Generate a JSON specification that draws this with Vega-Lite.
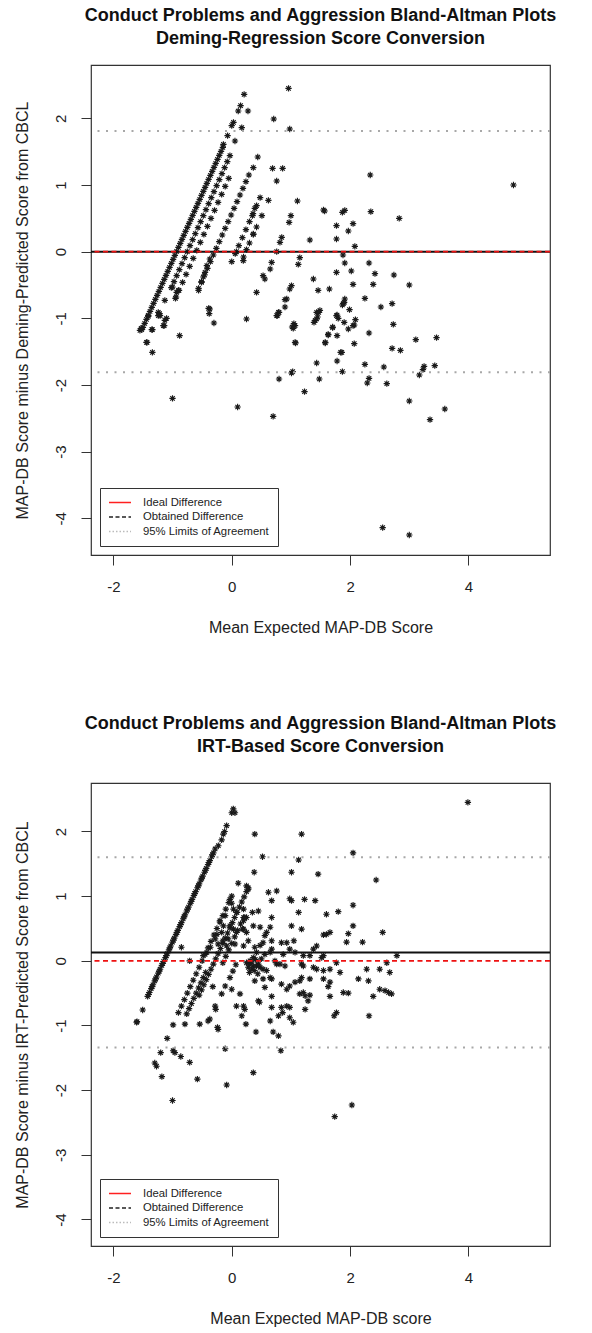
{
  "$schema": "https://vega.github.io/schema/vega-lite/v6.json",
  "background": "white",
  "padding": {"left": 13, "top": 6, "right": 10, "bottom": 5},
  "config": {
    "font": "Liberation Sans",
    "view": {"stroke": "#333", "strokeWidth": 1.2},
    "axis": {"grid": false, "domain": false, "ticks": true, "tickSize": 10, "tickColor": "#333", "tickWidth": 1, "labelFont": "Liberation Sans", "labelFontSize": 15, "labelColor": "#222", "titleFont": "Liberation Sans", "titleFontSize": 16, "titleFontWeight": "normal", "titleColor": "#222", "labelOverlap": false, "labelFlush": false, "labelExpr": "'' + datum.value"},
    "axisX": {"labelPadding": 14.5, "titlePadding": 25},
    "axisY": {"labelAngle": -90, "labelAlign": "center", "labelBaseline": "bottom", "labelPadding": 12.5, "titlePadding": 23},
    "title": {"font": "Liberation Sans", "fontSize": 18, "fontWeight": "bold", "color": "#111", "anchor": "middle", "frame": "group", "lineHeight": 23}
  },
  "datasets": {
    "p1": [
      {"x":-1.50,"y":-1.135},{"x":-1.47,"y":-1.075},{"x":-1.44,"y":-1.015},{"x":-1.41,"y":-0.955},{"x":-1.38,"y":-0.895},{"x":-1.35,"y":-0.835},{"x":-1.32,"y":-0.775},{"x":-1.29,"y":-0.715},{"x":-1.26,"y":-0.655},{"x":-1.23,"y":-0.595},{"x":-1.20,"y":-0.535},{"x":-1.17,"y":-0.475},{"x":-1.14,"y":-0.415},{"x":-1.11,"y":-0.355},{"x":-1.08,"y":-0.295},{"x":-1.05,"y":-0.235},{"x":-1.02,"y":-0.175},{"x":-0.99,"y":-0.115},{"x":-0.96,"y":-0.055},{"x":-0.93,"y":0.005},{"x":-0.90,"y":0.065},{"x":-0.87,"y":0.125},{"x":-0.84,"y":0.185},{"x":-0.81,"y":0.245},{"x":-0.78,"y":0.305},{"x":-0.75,"y":0.365},{"x":-0.72,"y":0.425},{"x":-0.69,"y":0.485},{"x":-0.66,"y":0.545},{"x":-0.63,"y":0.605},{"x":-0.60,"y":0.665},{"x":-0.57,"y":0.725},{"x":-0.54,"y":0.785},{"x":-0.51,"y":0.845},{"x":-0.48,"y":0.905},{"x":-0.45,"y":0.965},{"x":-0.42,"y":1.025},{"x":-0.39,"y":1.085},{"x":-0.36,"y":1.145},{"x":-0.33,"y":1.205},{"x":-0.30,"y":1.265},{"x":-0.27,"y":1.325},{"x":-0.24,"y":1.385},{"x":-0.21,"y":1.445},{"x":-0.18,"y":1.505},{"x":-0.15,"y":1.565},
      {"x":-0.14,"y":1.61},{"x":-0.07,"y":1.74},{"x":0.0,"y":1.89},{"x":0.03,"y":1.94},{"x":0.11,"y":2.11},{"x":0.15,"y":2.19},{"x":0.21,"y":2.36},{"x":-1.55,"y":-1.18},{"x":-1.52,"y":-1.17},{"x":-1.53,"y":-1.15},
      {"x":-1.02,"y":-0.54},{"x":-0.975,"y":-0.45},{"x":-0.93,"y":-0.36},{"x":-0.885,"y":-0.27},{"x":-0.84,"y":-0.18},{"x":-0.795,"y":-0.09},{"x":-0.75,"y":0.0},{"x":-0.705,"y":0.09},{"x":-0.66,"y":0.18},{"x":-0.615,"y":0.27},{"x":-0.57,"y":0.36},{"x":-0.525,"y":0.45},{"x":-0.48,"y":0.54},{"x":-0.435,"y":0.63},{"x":-0.39,"y":0.72},{"x":-0.345,"y":0.81},{"x":-0.30,"y":0.90},{"x":-0.255,"y":0.99},{"x":-0.21,"y":1.08},{"x":-0.165,"y":1.17},{"x":-0.12,"y":1.26},{"x":-0.075,"y":1.35},{"x":-0.03,"y":1.44},
      {"x":0.055,"y":1.66},{"x":0.17,"y":1.86},{"x":0.275,"y":2.11},{"x":-1.24,"y":-0.91},{"x":-1.13,"y":-0.73},{"x":-1.35,"y":-1.17},{"x":-1.43,"y":-1.36},{"x":-1.21,"y":-0.96},
      {"x":-0.95,"y":-0.70},{"x":-0.89,"y":-0.58},{"x":-0.83,"y":-0.46},{"x":-0.77,"y":-0.34},{"x":-0.71,"y":-0.22},{"x":-0.65,"y":-0.10},{"x":-0.59,"y":0.02},{"x":-0.53,"y":0.14},{"x":-0.47,"y":0.26},{"x":-0.41,"y":0.38},{"x":-0.35,"y":0.50},{"x":-0.29,"y":0.62},{"x":-0.23,"y":0.74},{"x":-0.17,"y":0.86},{"x":-0.11,"y":0.98},{"x":-0.05,"y":1.10},
      {"x":-1.13,"y":-1.03},{"x":-1.155,"y":-1.11},{"x":-1.34,"y":-1.51},{"x":-1.10,"y":-1.00},
      {"x":-0.56,"y":-0.55},{"x":-0.51,"y":-0.45},{"x":-0.46,"y":-0.35},{"x":-0.41,"y":-0.25},{"x":-0.36,"y":-0.15},{"x":-0.31,"y":-0.05},{"x":-0.26,"y":0.05},{"x":-0.21,"y":0.15},{"x":-0.16,"y":0.25},{"x":-0.11,"y":0.35},{"x":-0.06,"y":0.45},{"x":-0.01,"y":0.55},{"x":0.04,"y":0.65},{"x":0.09,"y":0.75},{"x":0.14,"y":0.85},{"x":0.19,"y":0.95},{"x":0.24,"y":1.05},{"x":0.29,"y":1.15},
      {"x":0.365,"y":1.26},{"x":0.44,"y":1.42},{"x":0.71,"y":1.99},{"x":0.96,"y":2.45},{"x":-0.88,"y":-1.26},
      {"x":0.0,"y":-0.15},{"x":0.06,"y":-0.03},{"x":0.12,"y":0.09},{"x":0.18,"y":0.21},{"x":0.24,"y":0.33},{"x":0.30,"y":0.45},{"x":0.36,"y":0.57},{"x":0.42,"y":0.69},{"x":0.48,"y":0.81},
      {"x":0.69,"y":1.25},{"x":0.98,"y":1.84},{"x":-0.37,"y":-0.86},{"x":-0.38,"y":-0.93},{"x":-1.0,"y":-2.2},{"x":0.08,"y":0.0},{"x":-0.39,"y":-0.85},
      {"x":0.20,"y":-0.08},{"x":0.25,"y":0.03},{"x":0.30,"y":0.13},{"x":0.365,"y":0.26},{"x":0.42,"y":0.37},{"x":0.51,"y":0.54},{"x":0.62,"y":0.77},{"x":0.76,"y":1.06},{"x":0.86,"y":1.25},{"x":-0.30,"y":-1.07},
      {"x":0.25,"y":-1.01},{"x":0.42,"y":-0.61},{"x":0.53,"y":-0.36},{"x":0.56,"y":-0.41},{"x":0.65,"y":-0.26},{"x":0.675,"y":-0.16},{"x":0.76,"y":0.0},{"x":0.815,"y":0.14},{"x":0.845,"y":0.215},{"x":0.97,"y":0.44},{"x":1.0,"y":0.54},{"x":1.11,"y":0.76},
      {"x":0.76,"y":-0.96},{"x":0.79,"y":-0.91},{"x":0.90,"y":-0.83},{"x":0.93,"y":-0.71},{"x":0.98,"y":-0.56},{"x":1.01,"y":-0.51},{"x":1.125,"y":-0.19},{"x":1.15,"y":-0.09},{"x":1.32,"y":0.175},{"x":1.55,"y":0.625},
      {"x":1.07,"y":-1.11},{"x":1.04,"y":-1.15},{"x":1.07,"y":-1.36},{"x":1.38,"y":-0.41},{"x":1.46,"y":-0.58},{"x":1.65,"y":-0.56},{"x":1.77,"y":-0.31},{"x":1.87,"y":0.59},{"x":1.77,"y":0.39},{"x":1.91,"y":-0.71},{"x":1.885,"y":-0.78},{"x":1.435,"y":-0.91},{"x":1.41,"y":-1.03},{"x":1.49,"y":-0.88},{"x":1.58,"y":-1.36},{"x":1.63,"y":-1.25},{"x":1.705,"y":-1.13},{"x":1.77,"y":-0.96},{"x":1.80,"y":-1.0},{"x":1.86,"y":-1.51},{"x":1.97,"y":-1.16},
      {"x":-1.0,"y":-0.53},{"x":-0.94,"y":-0.68},{"x":-0.93,"y":-0.61},{"x":-0.90,"y":-0.58},{"x":-0.56,"y":-0.58},{"x":-0.51,"y":-0.46},{"x":-0.48,"y":-0.38},{"x":-0.45,"y":-0.31},{"x":-0.42,"y":-0.21},{"x":-0.37,"y":-0.11},{"x":0.39,"y":0.65},{"x":0.35,"y":0.54},{"x":0.365,"y":0.265},{"x":0.196,"y":-0.134},
      {"x":-1.41,"y":-0.97},{"x":-1.22,"y":-0.93},{"x":-1.24,"y":-0.96},{"x":-1.14,"y":-1.11},{"x":-1.34,"y":-1.17},{"x":-1.44,"y":-1.36},
      {"x":0.80,"y":-0.91},{"x":0.77,"y":-0.96},{"x":0.90,"y":-0.72},{"x":1.05,"y":-1.08},{"x":1.02,"y":-1.13},{"x":1.08,"y":-1.37},{"x":0.80,"y":-1.91},{"x":1.03,"y":-1.80},{"x":1.01,"y":-1.82},{"x":1.23,"y":-2.10},{"x":0.10,"y":-2.33},{"x":0.70,"y":-2.47},{"x":1.47,"y":-0.91},{"x":1.45,"y":-0.98},{"x":1.39,"y":-1.06},{"x":1.435,"y":-1.01},{"x":1.58,"y":-1.37},{"x":1.63,"y":-1.24},{"x":1.705,"y":-1.14},{"x":1.78,"y":-0.95},{"x":1.78,"y":-1.26},{"x":1.90,"y":-1.06},{"x":1.90,"y":-0.76},{"x":1.87,"y":-0.80},{"x":1.99,"y":-0.87},{"x":2.05,"y":-1.11},{"x":2.07,"y":-1.10},{"x":2.09,"y":-1.02},{"x":2.07,"y":-1.38},{"x":1.84,"y":-1.51},{"x":1.78,"y":-1.64},{"x":1.435,"y":-1.67},{"x":1.87,"y":-1.80},{"x":1.48,"y":-1.91},{"x":2.32,"y":-1.22},{"x":2.52,"y":-0.83},{"x":2.73,"y":-1.09},{"x":2.25,"y":-1.69},{"x":2.32,"y":-1.90},{"x":2.29,"y":-1.97},{"x":2.57,"y":-1.73},{"x":2.62,"y":-1.98},{"x":2.71,"y":-1.45},{"x":2.85,"y":-1.48},{"x":3.11,"y":-1.32},{"x":3.46,"y":-1.29},{"x":3.43,"y":-1.71},{"x":3.25,"y":-1.72},{"x":3.23,"y":-1.77},{"x":3.17,"y":-1.85},{"x":3.0,"y":-2.24},{"x":3.60,"y":-2.36},{"x":3.35,"y":-2.52},{"x":2.55,"y":-4.14},{"x":3.0,"y":-4.25},
      {"x":2.34,"y":1.15},{"x":4.76,"y":1.0},{"x":2.83,"y":0.5},{"x":1.57,"y":0.61},{"x":1.91,"y":0.62},{"x":2.35,"y":0.6},{"x":2.05,"y":0.42},{"x":1.97,"y":0.31},{"x":1.77,"y":0.19},{"x":2.08,"y":0.08},{"x":1.88,"y":-0.05},{"x":1.91,"y":-0.17},{"x":2.32,"y":-0.17},{"x":2.42,"y":-0.33},{"x":2.39,"y":-0.49},{"x":2.74,"y":-0.35},{"x":3.0,"y":-0.5},{"x":2.02,"y":-0.29},{"x":2.05,"y":-0.49},{"x":2.25,"y":-0.7},{"x":2.71,"y":-0.78}
    ],
    "p2": [
      {"x":-1.42,"y":-0.55},{"x":-1.39,"y":-0.49},{"x":-1.36,"y":-0.43},{"x":-1.33,"y":-0.37},{"x":-1.30,"y":-0.31},{"x":-1.27,"y":-0.25},{"x":-1.24,"y":-0.19},{"x":-1.21,"y":-0.13},{"x":-1.18,"y":-0.07},{"x":-1.15,"y":-0.01},{"x":-1.12,"y":0.05},{"x":-1.09,"y":0.11},{"x":-1.06,"y":0.17},{"x":-1.03,"y":0.23},{"x":-1.00,"y":0.29},{"x":-0.97,"y":0.35},{"x":-0.94,"y":0.41},{"x":-0.91,"y":0.47},{"x":-0.88,"y":0.53},{"x":-0.85,"y":0.59},{"x":-0.82,"y":0.65},{"x":-0.79,"y":0.71},{"x":-0.76,"y":0.77},{"x":-0.73,"y":0.83},{"x":-0.70,"y":0.89},{"x":-0.67,"y":0.95},{"x":-0.64,"y":1.01},{"x":-0.61,"y":1.07},{"x":-0.58,"y":1.13},{"x":-0.55,"y":1.19},{"x":-0.52,"y":1.25},{"x":-0.49,"y":1.31},{"x":-0.46,"y":1.37},{"x":-0.43,"y":1.43},{"x":-0.40,"y":1.49},{"x":-0.37,"y":1.55},{"x":-0.34,"y":1.61},{"x":-0.31,"y":1.67},{"x":-0.28,"y":1.73},
      {"x":-1.405,"y":-0.52},{"x":-1.345,"y":-0.40},{"x":-1.285,"y":-0.28},{"x":-1.225,"y":-0.16},{"x":-1.165,"y":-0.04},{"x":-1.105,"y":0.08},{"x":-1.045,"y":0.20},{"x":-0.985,"y":0.32},{"x":-0.925,"y":0.44},{"x":-0.865,"y":0.56},{"x":-0.805,"y":0.68},{"x":-0.745,"y":0.80},{"x":-0.685,"y":0.92},{"x":-0.625,"y":1.04},{"x":-0.565,"y":1.16},{"x":-0.505,"y":1.28},{"x":-0.445,"y":1.40},{"x":-0.385,"y":1.52},{"x":-0.325,"y":1.64},
      {"x":-0.226,"y":1.78},{"x":-0.17,"y":1.87},{"x":-0.142,"y":1.96},{"x":-0.12,"y":2.0},{"x":-0.086,"y":2.09},{"x":0.0,"y":2.29},{"x":0.027,"y":2.35},{"x":0.055,"y":2.29},{"x":-1.504,"y":-0.76},{"x":-1.606,"y":-0.95},{"x":-1.60,"y":-0.94},
      {"x":-0.90,"y":-0.80},{"x":-0.85,"y":-0.70},{"x":-0.80,"y":-0.60},{"x":-0.75,"y":-0.50},{"x":-0.70,"y":-0.40},{"x":-0.65,"y":-0.30},{"x":-0.60,"y":-0.20},{"x":-0.55,"y":-0.10},{"x":-0.50,"y":0.0},{"x":-0.45,"y":0.10},{"x":-0.40,"y":0.20},{"x":-0.35,"y":0.30},{"x":-0.30,"y":0.40},{"x":-0.25,"y":0.50},{"x":-0.20,"y":0.60},{"x":-0.15,"y":0.70},{"x":-0.10,"y":0.80},{"x":-0.05,"y":0.90},{"x":0.0,"y":1.0},
      {"x":-0.55,"y":-0.53},{"x":-0.51,"y":-0.45},{"x":-0.47,"y":-0.37},{"x":-0.43,"y":-0.29},{"x":-0.39,"y":-0.21},{"x":-0.35,"y":-0.13},{"x":-0.31,"y":-0.05},{"x":-0.27,"y":0.03},{"x":-0.23,"y":0.11},{"x":-0.19,"y":0.19},{"x":-0.15,"y":0.27},{"x":-0.11,"y":0.35},{"x":-0.07,"y":0.43},{"x":-0.03,"y":0.51},{"x":0.01,"y":0.59},{"x":0.05,"y":0.67},{"x":0.09,"y":0.75},{"x":0.13,"y":0.83},{"x":0.17,"y":0.91},{"x":0.21,"y":0.99},{"x":0.25,"y":1.07},{"x":0.28,"y":1.13},
      {"x":-0.76,"y":-0.82},{"x":-0.72,"y":-0.74},{"x":-0.68,"y":-0.66},{"x":-0.64,"y":-0.58},{"x":-0.60,"y":-0.50},{"x":-0.56,"y":-0.42},{"x":-0.52,"y":-0.34},{"x":-0.48,"y":-0.26},{"x":-0.44,"y":-0.18},
      {"x":-0.15,"y":-0.03},{"x":-0.10,"y":0.07},{"x":-0.05,"y":0.17},{"x":0.0,"y":0.27},{"x":0.05,"y":0.37},{"x":0.10,"y":0.47},{"x":0.15,"y":0.57},{"x":0.20,"y":0.67},
      {"x":-0.03,"y":-0.26},{"x":0.02,"y":-0.16},{"x":0.07,"y":-0.06},
      {"x":0.39,"y":1.96},{"x":1.18,"y":1.96},{"x":0.52,"y":1.61},{"x":1.13,"y":1.56},{"x":2.05,"y":1.67},{"x":1.01,"y":1.37},{"x":1.46,"y":1.34},{"x":0.38,"y":1.37},{"x":2.44,"y":1.25},{"x":0.11,"y":1.20},{"x":0.25,"y":1.16},{"x":0.28,"y":1.11},{"x":0.62,"y":1.06},{"x":0.76,"y":1.08},{"x":0.98,"y":0.96},{"x":1.23,"y":0.95},{"x":-0.03,"y":0.95},{"x":1.01,"y":0.93},{"x":1.41,"y":0.93},{"x":0.675,"y":0.93},{"x":0.45,"y":0.77},{"x":0.35,"y":0.75},{"x":0.675,"y":0.67},
      {"x":0.0,"y":0.89},{"x":0.03,"y":0.80},{"x":0.08,"y":0.75},{"x":0.20,"y":0.80},{"x":0.25,"y":0.67},{"x":-0.11,"y":0.70},{"x":-0.20,"y":0.62},{"x":-0.14,"y":0.54},{"x":-0.17,"y":0.44},{"x":-0.25,"y":0.41},{"x":-0.03,"y":0.54},{"x":0.03,"y":0.49},{"x":0.08,"y":0.44},{"x":0.185,"y":0.49},{"x":0.20,"y":0.62},{"x":0.22,"y":0.67},{"x":0.20,"y":0.23},{"x":0.055,"y":0.26},{"x":-0.06,"y":0.34},{"x":-0.085,"y":0.23},{"x":-0.15,"y":0.31},{"x":-0.23,"y":0.26},{"x":-0.28,"y":0.34},{"x":-0.36,"y":0.21},{"x":-0.42,"y":0.13},{"x":-0.48,"y":0.08},{"x":-0.71,"y":0.0},{"x":-0.85,"y":0.21},
      {"x":2.05,"y":0.86},{"x":1.60,"y":0.72},{"x":1.80,"y":0.76},{"x":1.13,"y":0.75},{"x":2.05,"y":0.54},{"x":2.55,"y":0.44},{"x":1.97,"y":0.42},{"x":1.55,"y":0.40},{"x":1.60,"y":0.41},{"x":1.66,"y":0.44},{"x":1.18,"y":0.49},{"x":1.01,"y":0.54},{"x":0.65,"y":0.52},{"x":0.48,"y":0.52},{"x":0.365,"y":0.54},{"x":0.59,"y":0.44},{"x":0.56,"y":0.39},{"x":0.25,"y":0.44},{"x":0.20,"y":0.49},{"x":1.94,"y":0.29},{"x":2.21,"y":0.29},{"x":1.435,"y":0.23},{"x":1.38,"y":0.18},{"x":0.84,"y":0.28},{"x":0.93,"y":0.28},{"x":1.05,"y":0.31},{"x":0.675,"y":0.31},{"x":0.53,"y":0.28},{"x":0.48,"y":0.24},{"x":0.39,"y":0.21},{"x":0.28,"y":0.31},{"x":2.79,"y":0.08},{"x":1.55,"y":0.08},{"x":1.52,"y":0.05},{"x":1.32,"y":0.08},{"x":1.21,"y":0.08},{"x":1.07,"y":0.13},{"x":0.98,"y":0.18},{"x":0.87,"y":0.10},{"x":0.675,"y":0.18},{"x":0.65,"y":0.13},{"x":0.56,"y":0.10},{"x":0.42,"y":0.13},{"x":0.365,"y":0.05},{"x":0.31,"y":0.0},{"x":0.25,"y":-0.03},{"x":0.365,"y":-0.08},{"x":0.28,"y":-0.10},{"x":0.34,"y":-0.13},{"x":0.42,"y":-0.08},{"x":0.48,"y":-0.10},{"x":0.53,"y":-0.13},{"x":0.59,"y":-0.15},{"x":0.73,"y":0.0},{"x":0.76,"y":-0.05},{"x":0.815,"y":-0.05},{"x":0.90,"y":-0.08},{"x":1.18,"y":-0.05},{"x":1.21,"y":-0.08},{"x":1.38,"y":-0.10},{"x":1.435,"y":-0.13},{"x":1.55,"y":-0.15},{"x":1.66,"y":-0.13},{"x":1.77,"y":-0.03},{"x":1.83,"y":-0.18},{"x":2.28,"y":-0.13},{"x":2.50,"y":-0.13},{"x":2.62,"y":-0.03},{"x":2.67,"y":-0.18},{"x":2.14,"y":-0.28},{"x":2.31,"y":-0.31},{"x":1.66,"y":-0.33},{"x":1.63,"y":-0.40},{"x":1.55,"y":-0.28},{"x":1.32,"y":-0.28},{"x":1.18,"y":-0.26},{"x":1.15,"y":-0.31},{"x":1.07,"y":-0.33},{"x":0.98,"y":-0.39},{"x":0.93,"y":-0.44},{"x":0.84,"y":-0.36},{"x":0.675,"y":-0.28},{"x":0.65,"y":-0.26},{"x":0.56,"y":-0.41},{"x":0.39,"y":-0.31},{"x":0.53,"y":-0.28},{"x":2.50,"y":-0.44},{"x":2.59,"y":-0.46},{"x":2.65,"y":-0.49},{"x":2.70,"y":-0.51},{"x":2.39,"y":-0.55},{"x":1.885,"y":-0.49},{"x":1.97,"y":-0.50},{"x":1.66,"y":-0.55},{"x":1.21,"y":-0.49},{"x":1.24,"y":-0.54},{"x":1.32,"y":-0.53},{"x":1.15,"y":-0.51},{"x":0.93,"y":-0.70},{"x":0.98,"y":-0.72},{"x":0.84,"y":-0.72},{"x":0.675,"y":-0.72},{"x":0.86,"y":-0.80},{"x":0.79,"y":-0.85},{"x":1.24,"y":-0.75},{"x":1.29,"y":-0.62},{"x":1.77,"y":-0.80},{"x":1.73,"y":-0.85},{"x":2.32,"y":-0.85},{"x":0.675,"y":-0.55},{"x":0.45,"y":-0.62},{"x":0.47,"y":-0.64},{"x":0.08,"y":-0.70},{"x":0.20,"y":-0.70},{"x":0.22,"y":-0.75},{"x":0.17,"y":-0.85},{"x":0.65,"y":-0.93},{"x":0.98,"y":-0.88},{"x":1.04,"y":-0.95},{"x":0.24,"y":-0.98},{"x":0.41,"y":-1.10},{"x":0.70,"y":-1.10},{"x":0.79,"y":-1.16},{"x":0.83,"y":-1.39},{"x":-0.11,"y":-1.36},{"x":-0.24,"y":-1.03},{"x":-0.23,"y":-1.06},{"x":-0.40,"y":-0.93},{"x":-0.37,"y":-0.90},{"x":-0.54,"y":-0.98},{"x":-0.79,"y":-0.98},{"x":-0.99,"y":-0.99},{"x":-0.17,"y":-0.51},{"x":-0.11,"y":-0.39},{"x":0.0,"y":-0.44},{"x":0.14,"y":-0.51},{"x":-0.28,"y":-0.70},{"x":-0.27,"y":-0.75},{"x":-0.32,"y":-0.40},{"x":-1.09,"y":-1.20},{"x":-1.20,"y":-1.42},{"x":-0.99,"y":-1.39},{"x":-0.96,"y":-1.42},{"x":-0.86,"y":-1.48},{"x":-0.71,"y":-1.57},{"x":-1.30,"y":-1.58},{"x":-1.27,"y":-1.63},{"x":-1.18,"y":-1.79},{"x":-0.58,"y":-1.83},{"x":-0.085,"y":-1.92},{"x":0.365,"y":-1.73},{"x":-1.0,"y":-2.16},{"x":2.03,"y":-2.23},{"x":1.74,"y":-2.41},
      {"x":0.30,"y":-0.05},{"x":0.33,"y":-0.02},{"x":0.40,"y":0.02},{"x":0.45,"y":-0.05},{"x":0.50,"y":0.03},{"x":0.38,"y":-0.15},{"x":0.44,"y":-0.20},{"x":0.30,"y":-0.18},
      {"x":3.99,"y":2.45}
    ]
  },
  "resolve": {"scale": {"color": "independent", "strokeDash": "independent"}},
  "spacing": 77,
  "vconcat": [
    {
      "width": 459,
      "height": 490,
      "title": {"text": ["Conduct Problems and Aggression Bland-Altman Plots", "Deming-Regression Score Conversion"], "offset": 17},
      "encoding": {
        "y": {"field": "y", "type": "quantitative", "scale": {"domain": [-4.55, 2.80], "nice": false, "zero": false}, "axis": {"values": [-4, -3, -2, -1, 0, 1, 2], "title": "MAP-DB Score minus Deming-Predicted Score from CBCL"}}
      },
      "layer": [
        {
          "data": {"name": "p1"},
          "mark": {"type": "point", "shape": "M0,-1L0,1M-1,0L1,0M-0.7,-0.7L0.7,0.7M-0.7,0.7L0.7,-0.7", "filled": false, "stroke": "#1a1a1a", "strokeWidth": 1.15, "size": 40, "opacity": 1, "clip": true},
          "encoding": {
            "x": {"field": "x", "type": "quantitative", "scale": {"domain": [-2.377, 5.377], "nice": false, "zero": false}, "axis": {"values": [-2, 0, 2, 4], "title": "Mean Expected MAP-DB Score"}}
          }
        },
        {
          "data": {"values": [{"y": 1.81}, {"y": -1.81}]},
          "mark": {"type": "rule", "color": "#a8a8a8", "strokeWidth": 2, "strokeDash": [2, 6.5]},
          "encoding": {}
        },
        {
          "data": {"values": [{"y": 0.0}]},
          "mark": {"type": "rule", "color": "#111", "strokeWidth": 2},
          "encoding": {}
        },
        {
          "data": {"values": [{"y": 0}]},
          "mark": {"type": "rule", "color": "#ee1111", "strokeWidth": 1.6, "strokeDash": [5, 3.5]},
          "encoding": {}
        },
        {
          "data": {"values": [{"series": "Ideal Difference", "y": 0}, {"series": "Obtained Difference", "y": 0}, {"series": "95% Limits of Agreement", "y": 0}]},
          "mark": {"type": "rule", "opacity": 0},
          "encoding": {
            "color": {"field": "series", "type": "nominal", "scale": {"domain": ["Ideal Difference", "Obtained Difference", "95% Limits of Agreement"], "range": ["#ff2020", "#222222", "#bbbbbb"]},
              "legend": {"title": null, "orient": "bottom-left", "offset": 9, "symbolType": "stroke", "symbolSize": 484, "symbolStrokeWidth": 1.4, "symbolOpacity": 1, "labelFont": "Liberation Sans", "labelFontSize": 11.3, "labelColor": "#222", "labelOffset": 11, "labelLimit": 300, "strokeColor": "#333", "fillColor": "white", "padding": 8, "rowPadding": 1.5, "clipHeight": 13}},
            "strokeDash": {"field": "series", "type": "nominal", "scale": {"domain": ["Ideal Difference", "Obtained Difference", "95% Limits of Agreement"], "range": [[1, 0], [4, 2.5], [1.5, 2]]},
              "legend": {"title": null, "orient": "bottom-left", "offset": 9, "symbolType": "stroke", "symbolSize": 484, "symbolStrokeWidth": 1.4, "symbolOpacity": 1, "labelFont": "Liberation Sans", "labelFontSize": 11.3, "labelColor": "#222", "labelOffset": 11, "labelLimit": 300, "strokeColor": "#333", "fillColor": "white", "padding": 8, "rowPadding": 1.5, "clipHeight": 13}}
          }
        }
      ]
    },
    {
      "width": 459,
      "height": 463,
      "title": {"text": ["Conduct Problems and Aggression Bland-Altman Plots", "IRT-Based Score Conversion"], "offset": 27},
      "encoding": {
        "y": {"field": "y", "type": "quantitative", "scale": {"domain": [-4.41, 2.75], "nice": false, "zero": false}, "axis": {"values": [-4, -3, -2, -1, 0, 1, 2], "title": "MAP-DB Score minus IRT-Predicted Score from CBCL"}}
      },
      "layer": [
        {
          "data": {"name": "p2"},
          "mark": {"type": "point", "shape": "M0,-1L0,1M-1,0L1,0M-0.7,-0.7L0.7,0.7M-0.7,0.7L0.7,-0.7", "filled": false, "stroke": "#1a1a1a", "strokeWidth": 1.15, "size": 40, "opacity": 1, "clip": true},
          "encoding": {
            "x": {"field": "x", "type": "quantitative", "scale": {"domain": [-2.377, 5.377], "nice": false, "zero": false}, "axis": {"values": [-2, 0, 2, 4], "title": "Mean Expected MAP-DB score"}}
          }
        },
        {
          "data": {"values": [{"y": 1.60}, {"y": -1.34}]},
          "mark": {"type": "rule", "color": "#a8a8a8", "strokeWidth": 2, "strokeDash": [2, 6.5]},
          "encoding": {}
        },
        {
          "data": {"values": [{"y": 0.13}]},
          "mark": {"type": "rule", "color": "#111", "strokeWidth": 2},
          "encoding": {}
        },
        {
          "data": {"values": [{"y": 0}]},
          "mark": {"type": "rule", "color": "#ee1111", "strokeWidth": 1.6, "strokeDash": [5, 3.5]},
          "encoding": {}
        },
        {
          "data": {"values": [{"series": "Ideal Difference", "y": 0}, {"series": "Obtained Difference", "y": 0}, {"series": "95% Limits of Agreement", "y": 0}]},
          "mark": {"type": "rule", "opacity": 0},
          "encoding": {
            "color": {"field": "series", "type": "nominal", "scale": {"domain": ["Ideal Difference", "Obtained Difference", "95% Limits of Agreement"], "range": ["#ff2020", "#222222", "#bbbbbb"]},
              "legend": {"title": null, "orient": "bottom-left", "offset": 9, "symbolType": "stroke", "symbolSize": 484, "symbolStrokeWidth": 1.4, "symbolOpacity": 1, "labelFont": "Liberation Sans", "labelFontSize": 11.3, "labelColor": "#222", "labelOffset": 11, "labelLimit": 300, "strokeColor": "#333", "fillColor": "white", "padding": 8, "rowPadding": 1.5, "clipHeight": 13}},
            "strokeDash": {"field": "series", "type": "nominal", "scale": {"domain": ["Ideal Difference", "Obtained Difference", "95% Limits of Agreement"], "range": [[1, 0], [4, 2.5], [1.5, 2]]},
              "legend": {"title": null, "orient": "bottom-left", "offset": 9, "symbolType": "stroke", "symbolSize": 484, "symbolStrokeWidth": 1.4, "symbolOpacity": 1, "labelFont": "Liberation Sans", "labelFontSize": 11.3, "labelColor": "#222", "labelOffset": 11, "labelLimit": 300, "strokeColor": "#333", "fillColor": "white", "padding": 8, "rowPadding": 1.5, "clipHeight": 13}}
          }
        }
      ]
    }
  ]
}
